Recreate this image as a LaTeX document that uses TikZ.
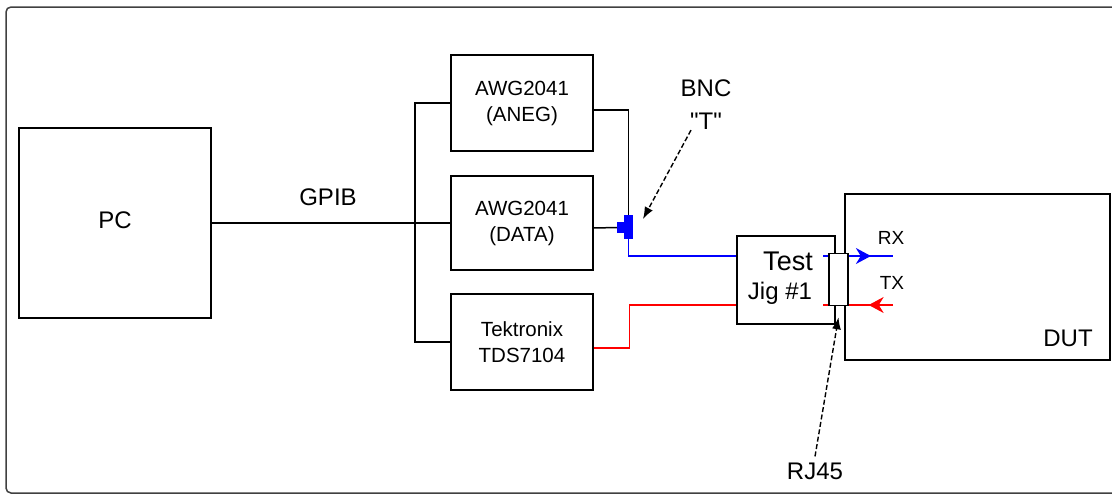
\documentclass[tikz,border=0pt]{standalone}
\usepackage{fontspec}
\setmainfont{Liberation Sans}[Ligatures=TeXOff]
\usetikzlibrary{arrows.meta,decorations.markings}
\tikzset{
  box/.style={draw, line width=1.5pt, fill=white, inner sep=0pt},
  big/.style={inner sep=0pt, align=center, font=\fontsize{24}{33}\selectfont},
  small/.style={inner sep=0pt, align=center, font=\fontsize{20.5}{26}\selectfont},
  tiny/.style={inner sep=0pt, font=\fontsize{19}{22}\selectfont},
  wire/.style={line width=1.5pt},
  sig/.style={line width=1.2pt},
  teepart/.style={fill=blue, inner sep=0pt},
  callout/.style={line width=1.4pt, dash pattern=on 5pt off 2.5pt, -{Latex[length=12pt,width=9pt]}},
  midarrow/.style={decoration={markings, mark=at position #1 with {\arrow{Stealth[length=15pt,width=16pt]}}}, postaction={decorate}},
}
\begin{document}
\begin{tikzpicture}[x=1pt,y=-1pt]
\useasboundingbox (0,0) rectangle (1112,496);

% Outer frame
\draw[line width=1.5pt, black!75, rounded corners=5pt] (1140,7) -- (6,7) -- (6,493) -- (1140,493);

% Boxes
\node[box, minimum width=192pt, minimum height=190pt] (pc) at (115,223) {};
\node[big] (pclbl) at (115,220) {PC};
\node[box, small, minimum width=142pt, minimum height=96pt] (aneg) at (522,103) {AWG2041\\(ANEG)};
\node[box, small, minimum width=142pt, minimum height=94pt] (data) at (522,223) {AWG2041\\(DATA)};
\node[box, small, minimum width=142pt, minimum height=96pt] (tek) at (522,342) {Tektronix\\TDS7104};
\node[box, minimum width=98pt, minimum height=88pt] (jig) at (786,280) {};
\node[inner sep=0pt, font=\fontsize{27}{30}\selectfont] (jigtop) at (788,261) {Test};
\node[inner sep=0pt, font=\fontsize{24}{28}\selectfont] (jigbot) at (780,293) {Jig \#1};
\node[box, minimum width=265pt, minimum height=166pt] (dut) at (977.5,277) {};
\node[big] (dutlbl) at (1068,338) {DUT};
\node[box, minimum width=19pt, minimum height=52pt] (rj) at (838.5,279.5) {};

% BNC T piece
\node[teepart, minimum width=9pt, minimum height=24pt] (tee) at (628.5,227) {};
\node[teepart, minimum width=7pt, minimum height=11pt] (teestub) at (620.5,227.5) {};

% GPIB bus
\coordinate (bus) at (415,223);
\draw[wire] (pc.east) -- (data.west);
\draw[wire] (aneg.west) -| (bus) |- (tek.west);
\node[big] (gpib) at (328,197) {GPIB};

% Generator outputs
\draw[wire] ([yshift=-7pt]aneg.east) -| (tee.north);
\draw[wire] ([yshift=-5pt]data.east) -- (teestub.west);
\draw[sig, blue] (tee.south) |- ([yshift=24pt]jig.west);
\draw[sig, red] ([yshift=-6pt]tek.east) -- ++(36,0) |- ([yshift=-25pt]jig.west);
\draw[sig, blue] ([xshift=-5pt,yshift=23.5pt]rj.west) -- ([yshift=23.5pt]rj.west);
\draw[sig, red] ([xshift=-5pt,yshift=-25.5pt]rj.west) -- ([yshift=-25.5pt]rj.west);

% RX / TX
\coordinate (rxend) at (893,256);
\coordinate (txend) at (893,305);
\draw[sig, blue, midarrow=0.5] ([yshift=23.5pt]rj.east) -- (rxend);
\draw[sig, red, midarrow=0.55] (txend) -- ([yshift=-25.5pt]rj.east);
\node[tiny] (rx) at (891,238) {RX};
\node[tiny] (tx) at (892,283) {TX};

% Callouts
\node[big] (bnc) at (706,105) {BNC\\"T"};
\coordinate (teetip) at (643,219);
\draw[callout] ([xshift=-15pt]bnc.south) -- (teetip);
\node[big] (rj45) at (815,471) {RJ45};
\draw[callout] ([yshift=6pt]rj45.north) -- ([yshift=-11pt]rj.south);
\end{tikzpicture}
\end{document}
